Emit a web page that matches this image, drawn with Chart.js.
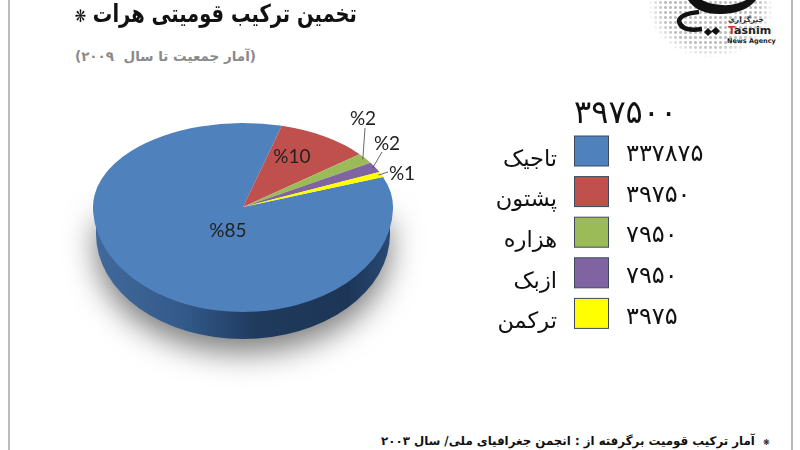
<!DOCTYPE html>
<html>
<head>
<meta charset="utf-8">
<script src="https://cdn.jsdelivr.net/npm/chart.js@4"></script>
<style>
  html, body { margin: 0; background: #fff; }
  #wrap { position: relative; width: 800px; height: 450px; overflow: hidden; font-family: "DejaVu Sans", sans-serif; }
  #pie { position: absolute; left: 0; top: 0; }
  .txt { position: absolute; white-space: pre; direction: rtl; }
  .edge { position: absolute; top: 0; width: 2px; height: 450px; background: #bbb; }
  .star { font-size: 0.7em; }
  #title { right: 443px; top: 0; font-size: 22px; font-weight: bold; color: #111; transform: scale(0.885, 1.12); transform-origin: right top; }
  #sub { right: 544px; top: 48px; font-size: 13.5px; font-weight: bold; color: #8a8a8a; }
  #note { right: 30px; top: 434px; font-size: 11.8px; font-weight: bold; color: #111; }
  #logo { position: absolute; left: 648px; top: -40px; width: 126px; height: 98px;
    background: radial-gradient(#bdbdbd 1.2px, transparent 1.7px) 0 0/5px 5px;
    -webkit-mask-image: radial-gradient(closest-side, #000 75%, transparent 100%); }
  #mark { position: absolute; left: 640px; top: 0; }
  .lg { direction: ltr; font-weight: bold; }
</style>
</head>
<body>
<div id="wrap">
  <div class="edge" style="left:8px"></div>
  <div class="edge" style="left:791px"></div>
  <div id="logo"></div>
  <svg id="mark" width="130" height="60" viewBox="640 0 130 60">
    <path d="M688 0 Q698 15 722 14 Q746 13 756 0 L746 0 Q735 6 722 5 Q708 4 702 0 Z" fill="#111"/>
    <path d="M699 12 Q680 14 679 21 Q681 32 702 29" fill="none" stroke="#111" stroke-width="4.5"/>
    <path d="M704 32 L708 28 L712 32 L708 36 Z M711 31 L716 27 L720 31 L716 35 Z" fill="#111"/>
  </svg>
  <div class="txt" style="left:728px;top:15px;font-size:7.5px;font-weight:bold;color:#333">خبرگزاری</div>
  <div class="txt lg" style="left:728px;top:24px;font-size:11px;color:#222"><span style="color:#d2322d">T</span>asnim</div>
  <div class="txt lg" style="left:727px;top:37px;font-size:6.5px;color:#222">News Agency</div>
  <div class="txt" id="title">تخمین ترکیب قومیتی هرات <span class="star">❋</span></div>
  <div class="txt" id="sub">(آمار جمعیت تا سال  ۲۰۰۹)</div>
  <div class="txt" id="note"><span class="star">❋</span>  آمار ترکیب قومیت برگرفته از : انجمن جغرافیای ملی/ سال ۲۰۰۳</div>
  <canvas id="pie" width="800" height="450"></canvas>
</div>
<script>
const groups = ['تاجیک', 'پشتون', 'هزاره', 'ازبک', 'ترکمن'];
const population = [337875, 39750, 7950, 7950, 3975];
const populationText = ['۳۳۷۸۷۵', '۳۹۷۵۰', '۷۹۵۰', '۷۹۵۰', '۳۹۷۵'];
const totalText = '۳۹۷۵۰۰';
const percentText = ['%85', '%10', '%2', '%2', '%1'];
const colors = ['#4f81bd', '#c0504d', '#9bbb59', '#8064a2', '#ffff00'];

// where the pie's top face sits, squashed from the circle chart.js draws
const squashTop = 84 / 150;
const squashBottom = 105 / 150;
const depth = 27;

// label centres and leader ends, as offsets from the apex
const labelSpots = [[-15, 24], [49, -50], [120, -88], [144, -63], [159, -33]];
const leaderEnds = [null, null, [122, -79], [139, -55], [145, -35]];

function flat(y, cy) {
  const k = y < cy ? squashTop : squashBottom;
  return cy + (y - cy) * k;
}

const pie3d = {
  id: 'pie3d',
  beforeDatasetsDraw(chart) {
    const ctx = chart.ctx;
    const arcs = chart.getDatasetMeta(0).data;
    const cx = arcs[0].x, cy = arcs[0].y, R = arcs[0].outerRadius;
    const ry = R * squashBottom;

    // wall with soft shadow under it
    const wall = ctx.createLinearGradient(cx - R, 0, cx + R, 0);
    wall.addColorStop(0, '#41699b');
    wall.addColorStop(0.3, '#335a8a');
    wall.addColorStop(0.55, '#1f3a5c');
    wall.addColorStop(0.85, '#1d3658');
    wall.addColorStop(1, '#2a4a75');
    ctx.save();
    ctx.shadowColor = 'rgba(0,0,0,0.5)';
    ctx.shadowBlur = 30;
    ctx.shadowOffsetY = 14;
    ctx.fillStyle = wall;
    ctx.beginPath();
    ctx.moveTo(cx - R + 3, cy);
    ctx.lineTo(cx + R - 3, cy);
    ctx.ellipse(cx, cy + depth, R - 3, ry, 0, 0, Math.PI);
    ctx.closePath();
    ctx.fill();
    ctx.restore();

    // top face: upper and lower halves squashed differently, for the perspective
    [[cy - R, squashTop], [cy, squashBottom]].forEach(([top, k]) => {
      ctx.save();
      ctx.beginPath();
      ctx.rect(cx - R - 2, top, 2 * R + 4, R);
      ctx.clip();
      ctx.translate(cx, cy);
      ctx.scale(1, k);
      ctx.translate(-cx, -cy);
      arcs.forEach(a => a.draw(ctx));
      ctx.restore();
    });
    return false;
  },
  afterDraw(chart) {
    const ctx = chart.ctx;
    const arcs = chart.getDatasetMeta(0).data;
    const cx = arcs[0].x, cy = arcs[0].y;

    // percent labels with their leaders
    ctx.textAlign = 'center';
    ctx.textBaseline = 'middle';
    percentText.forEach((t, i) => {
      const [dx, dy] = labelSpots[i];
      if (leaderEnds[i]) {
        const mid = (arcs[i].startAngle + arcs[i].endAngle) / 2;
        const px = cx + Math.cos(mid) * arcs[i].outerRadius * 0.98;
        const py = flat(cy + Math.sin(mid) * arcs[i].outerRadius * 0.98, cy);
        ctx.strokeStyle = '#444';
        ctx.lineWidth = 0.8;
        ctx.beginPath();
        ctx.moveTo(px, py);
        ctx.lineTo(cx + leaderEnds[i][0], cy + leaderEnds[i][1]);
        ctx.stroke();
      }
      ctx.font = '19px Lato';
      ctx.fillStyle = '#222';
      ctx.fillText(t, cx + dx, cy + dy);
    });

    // legend: name, swatch, count
    ctx.font = '32px "DejaVu Sans"';
    ctx.fillStyle = '#111';
    ctx.textAlign = 'left';
    ctx.fillText(totalText, 574, 115);
    groups.forEach((g, i) => {
      const y = 151 + i * 40.6;
      ctx.fillStyle = colors[i];
      ctx.strokeStyle = '#3d4b5c';
      ctx.lineWidth = 1;
      ctx.fillRect(574.5, y - 15, 34, 30);
      ctx.strokeRect(574.5, y - 15, 34, 30);
      ctx.fillStyle = '#111';
      ctx.font = '22.5px "DejaVu Sans"';
      ctx.textAlign = 'right';
      ctx.fillText(g, 557, y + 9);
      ctx.font = '24px "DejaVu Sans"';
      ctx.textAlign = 'left';
      ctx.fillText(populationText[i], 626, y + 4);
    });
  }
};

new Chart(document.getElementById('pie'), {
  type: 'pie',
  data: {
    labels: groups,
    datasets: [{ data: population, backgroundColor: colors, borderWidth: 0, hoverOffset: 0 }]
  },
  options: {
    responsive: false,
    animation: false,
    rotation: 69,
    layout: { padding: { left: 93, right: 407, top: 57, bottom: 93 } },
    plugins: { legend: { display: false }, tooltip: { enabled: false } }
  },
  plugins: [pie3d]
});
</script>
</body>
</html>
